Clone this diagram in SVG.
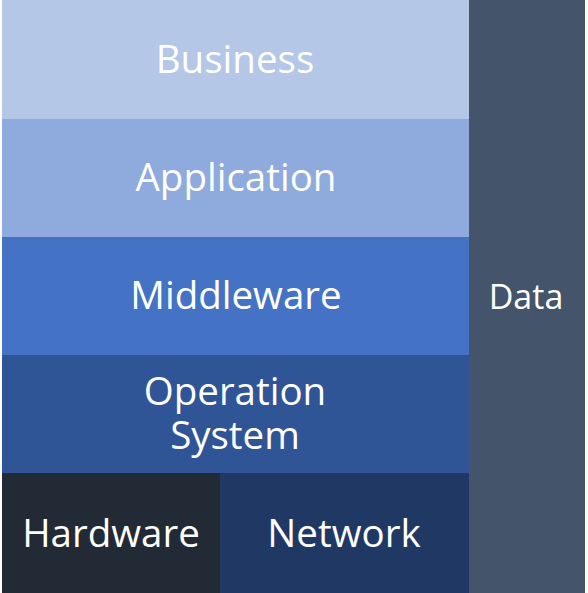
<svg xmlns="http://www.w3.org/2000/svg" width="588" height="593" viewBox="0 0 588 593">
<style>
text{font-family:"Open Sans","Noto Sans","DejaVu Sans",sans-serif;font-size:38.5px;fill:#fff;text-anchor:middle}
</style>
<rect width="588" height="593" fill="#fff"/>
<g id="business"><rect x="2" y="0" width="467" height="119" fill="#B4C7E7"/><text x="235" y="73">Business</text></g>
<g id="application"><rect x="2" y="119" width="467" height="118" fill="#8FAADC"/><text x="236" y="191">Application</text></g>
<g id="middleware"><rect x="2" y="237" width="467" height="118" fill="#4472C4"/><text x="236" y="309">Middleware</text></g>
<g id="os"><rect x="2" y="355" width="467" height="118" fill="#2F5597"/><text x="235" y="405">Operation</text><text x="235" y="449">System</text></g>
<g id="hardware"><rect x="2" y="473" width="218" height="120" fill="#222A35"/><text x="111" y="547">Hardware</text></g>
<g id="network"><rect x="220" y="473" width="249" height="120" fill="#203864"/><text x="344" y="547">Network</text></g>
<g id="data"><rect x="469" y="0" width="116" height="593" fill="#44546A"/><text x="526" y="309" style="font-size:34px">Data</text></g>
<g id="connectors"/>
</svg>
